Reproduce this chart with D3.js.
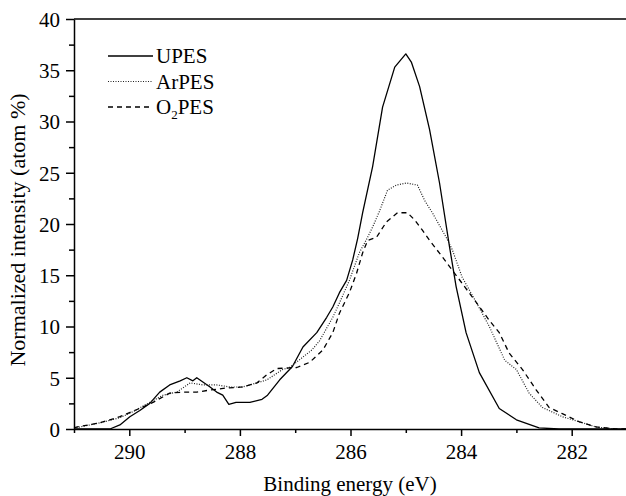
<!DOCTYPE html>
<html>
<head>
<meta charset="utf-8">
<script src="https://cdn.jsdelivr.net/npm/d3@7"></script>
<style>
	body { margin: 0; background: #fff; }
	svg { display: block; }
</style>
</head>
<body>
<div id="chart"></div>
<script>
// binding energy (eV) / normalized intensity (atom %)
const upesEnergy = [291.0, 290.35, 290.17, 289.99, 289.81, 289.63, 289.45, 289.27, 289.08, 288.96, 288.85, 288.78, 288.54, 288.42, 288.31, 288.2, 288.07, 287.82, 287.6, 287.5, 287.28, 287.05, 286.86, 286.61, 286.43, 286.32, 286.2, 286.07, 285.96, 285.87, 285.78, 285.6, 285.42, 285.2, 285.0, 284.9, 284.75, 284.57, 284.39, 284.21, 284.09, 283.91, 283.67, 283.31, 283.0, 282.59, 282.23, 281.0];
const upesValues = [0, 0, 0.4, 1.2, 1.8, 2.5, 3.6, 4.3, 4.7, 5.0, 4.7, 5.0, 4.1, 3.6, 3.3, 2.4, 2.6, 2.6, 2.9, 3.3, 4.8, 6.1, 8.0, 9.4, 10.9, 11.9, 13.3, 14.5, 16.5, 18.6, 21.1, 25.6, 31.4, 35.3, 36.6, 35.8, 33.4, 29.2, 24.0, 17.8, 13.9, 9.4, 5.5, 2.0, 0.9, 0.1, 0, 0];

const arpesEnergy = [291.0, 290.89, 290.53, 290.17, 289.93, 289.63, 289.39, 289.14, 288.9, 288.67, 288.42, 288.18, 287.95, 287.69, 287.51, 287.23, 287.1, 286.7, 286.56, 286.32, 286.2, 286.02, 285.84, 285.69, 285.6, 285.48, 285.33, 285.17, 284.99, 284.79, 284.66, 284.52, 284.27, 284.16, 283.98, 283.72, 283.49, 283.21, 283.0, 282.77, 282.53, 282.17, 281.86, 281.56, 281.2, 281.0];
const arpesValues = [0.1, 0.2, 0.6, 1.1, 1.7, 2.6, 3.3, 3.6, 4.5, 4.3, 4.3, 4.1, 4.1, 4.5, 4.8, 5.8, 6.0, 7.7, 8.6, 10.9, 12.3, 14.5, 17.2, 18.7, 19.7, 21.2, 23.3, 23.8, 24.0, 23.8, 22.3, 21.1, 18.7, 17.5, 14.8, 12.3, 10.0, 6.7, 5.8, 3.5, 2.1, 1.2, 0.7, 0.2, 0, 0];

const o2pesEnergy = [291.0, 290.94, 290.53, 290.17, 289.86, 289.57, 289.27, 289.03, 288.78, 288.54, 288.24, 287.95, 287.69, 287.51, 287.33, 286.97, 286.74, 286.5, 286.32, 286.2, 286.02, 285.89, 285.78, 285.69, 285.53, 285.35, 285.15, 284.97, 284.84, 284.7, 284.57, 284.34, 284.16, 283.98, 283.72, 283.49, 283.31, 283.13, 282.89, 282.64, 282.41, 282.17, 281.86, 281.56, 281.2, 281.0];
const o2pesValues = [0.1, 0.2, 0.6, 1.2, 1.9, 2.6, 3.5, 3.6, 3.6, 3.8, 4.0, 4.1, 4.5, 5.3, 5.9, 6.0, 6.5, 7.7, 9.4, 11.3, 13.3, 15.2, 17.2, 18.4, 18.7, 20.2, 21.1, 21.1, 20.4, 19.4, 18.4, 16.8, 15.5, 14.2, 12.3, 10.6, 9.4, 7.4, 5.8, 3.8, 2.1, 1.5, 0.7, 0.2, 0, 0];

const xTickValues = [290, 288, 286, 284, 282];
const xMinorTicks = [291, 289, 287, 285, 283, 281];
const yTickValues = [0, 5, 10, 15, 20, 25, 30, 35, 40];
const yMinorTicks = [2.5, 7.5, 12.5, 17.5, 22.5, 27.5, 32.5, 37.5];

const series = [
	{ name: 'UPES', energy: upesEnergy, values: upesValues, dash: null, width: 1.3, color: '#000' },
	{ name: 'ArPES', energy: arpesEnergy, values: arpesValues, dash: '1,1.5', width: 1.2, color: '#222' },
	{ name: 'O2PES', energy: o2pesEnergy, values: o2pesValues, dash: '5,4', width: 1.3, color: '#000' },
];

const width = 626, height = 496;
const margin = { top: 19, left: 74, bottom: 67 };
const serif = '"Liberation Serif", "Times New Roman", "DejaVu Serif", serif';

const svg = d3.select('#chart').append('svg')
	.attr('width', width)
	.attr('height', height)
	.attr('font-family', serif);

// x axis reversed, right edge of the frame is cropped off
const xScale = d3.scaleLinear().domain([291, 281]).range([margin.left, 627]);
const yScale = d3.scaleLinear().domain([0, 40]).range([height - margin.bottom, margin.top]);

// lines
const line = d3.line()
	.x(d => xScale(d[0]))
	.y(d => yScale(d[1]));

const marks = svg.append('g');
series.forEach(s => {
	marks.append('path')
		.datum(d3.zip(s.energy, s.values))
		.attr('fill', 'none')
		.attr('stroke', s.color)
		.attr('stroke-width', s.width)
		.attr('stroke-dasharray', s.dash)
		.attr('stroke-linejoin', 'round')
		.attr('d', line);
});

// axis styling helper
function styleAxis(g) {
	g.attr('font-family', serif).attr('font-size', 21);
	g.selectAll('path, line').attr('stroke', '#000').attr('stroke-width', 1.5);
	g.selectAll('text').attr('fill', '#000');
}

// minor ticks first, then major axes on top
svg.append('g')
	.attr('transform', `translate(0, ${yScale(0)})`)
	.call(d3.axisBottom(xScale).tickValues(xMinorTicks).tickSize(4).tickFormat(''))
	.call(g => g.select('.domain').remove())
	.call(styleAxis);
svg.append('g')
	.attr('transform', `translate(${margin.left}, 0)`)
	.call(d3.axisLeft(yScale).tickValues(yMinorTicks).tickSize(5).tickFormat(''))
	.call(g => g.select('.domain').remove())
	.call(styleAxis);

svg.append('g')
	.attr('transform', `translate(0, ${yScale(0)})`)
	.call(d3.axisBottom(xScale).tickValues(xTickValues).tickSize(7).tickSizeOuter(0).tickPadding(8).tickFormat(d3.format('d')))
	.call(styleAxis);
svg.append('g')
	.attr('transform', `translate(${margin.left}, 0)`)
	.call(d3.axisLeft(yScale).tickValues(yTickValues).tickSize(8).tickSizeOuter(0).tickPadding(6).tickFormat(d3.format('d')))
	.call(styleAxis)
	.call(g => g.selectAll('text').attr('dy', '0.35em'));

// top frame line
svg.append('line')
	.attr('x1', margin.left).attr('x2', width)
	.attr('y1', yScale(40)).attr('y2', yScale(40))
	.attr('stroke', '#000').attr('stroke-width', 1.5);

// axis labels
svg.append('text')
	.attr('text-anchor', 'middle')
	.attr('x', 350)
	.attr('y', 491)
	.attr('font-size', 21)
	.text('Binding energy (eV)');

svg.append('text')
	.attr('text-anchor', 'middle')
	.attr('transform', 'rotate(-90)')
	.attr('x', -230)
	.attr('y', 25)
	.attr('font-size', 22)
	.text('Normalized intensity (atom %)');

// legend
const legend = svg.append('g').attr('transform', 'translate(108, 56)');
series.forEach((s, i) => {
	const row = legend.append('g').attr('transform', `translate(0, ${i * 25.5})`);
	row.append('line')
		.attr('x1', 0).attr('x2', 45)
		.attr('stroke', s.color)
		.attr('stroke-width', s.width)
		.attr('stroke-dasharray', s.dash);
	const t = row.append('text')
		.attr('x', 48)
		.attr('y', 7)
		.attr('font-size', 21);
	if (s.name === 'O2PES') {
		t.append('tspan').text('O');
		t.append('tspan').attr('font-size', 13).attr('dy', 5).text('2');
		t.append('tspan').attr('dy', -5).text('PES');
	} else {
		t.text(s.name);
	}
});
</script>
</body>
</html>
